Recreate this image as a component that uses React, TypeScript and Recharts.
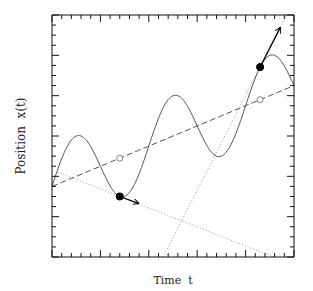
import {
  ComposedChart,
  Line,
  Scatter,
  XAxis,
  YAxis,
} from "recharts";

// axis ticks (no tick labels in the figure, only marks)
const timeTicks = [0, 1, 2, 3, 4, 5, 6, 7, 8, 9, 10, 11, 12, 13, 14, 15, 16, 17, 18, 19, 20, 21, 22, 23, 24, 25];
const positionTicks = [0, 1, 2, 3, 4, 5, 6, 7, 8, 9, 10, 11, 12, 13, 14, 15, 16, 17, 18, 19, 20, 21, 22, 23, 24];

// the wiggly trajectory x(t)
const curveT = [0, 1, 2, 3, 4, 5, 6, 7, 8, 9, 10, 11, 12, 13, 14, 15, 16, 17, 18, 19, 20, 21, 22, 23, 24, 25];
const curveX = [7.0, 9.75, 11.6, 12.0, 10.95, 9.0, 7.05, 6.0, 6.4, 8.25, 11.0, 13.75, 15.6, 16.0, 14.95, 13.0, 11.05, 10.0, 10.4, 12.25, 15.0, 17.75, 19.6, 20.0, 18.95, 17.0];

// dashed mean drift
const trendT = [0, 25];
const trendX = [7, 17];

// dotted tangents through the two marked instants
const tangent1T = [0.6, 22.9];
const tangent1X = [8.41, 0];
const tangent2T = [11.47, 24.24];
const tangent2X = [0, 24];

// velocity arrows
const arrow1T = [7, 9];
const arrow1X = [6.0, 5.3];
const arrow2T = [21.5, 23.6];
const arrow2X = [18.84, 22.8];

// marked points
const pointT = [7, 21.5];
const pointX = [6.0, 18.84];
const driftT = [7, 21.5];
const driftX = [9.8, 15.6];

const zip = (ts: number[], xs: number[]) => ts.map((t, i) => ({ t, x: xs[i] }));

const curveData = zip(curveT, curveX);
const trendData = zip(trendT, trendX);
const tangent1Data = zip(tangent1T, tangent1X);
const tangent2Data = zip(tangent2T, tangent2X);
const arrow1Data = zip(arrow1T, arrow1X);
const arrow2Data = zip(arrow2T, arrow2X);
const pointData = zip(pointT, pointX);
const driftData = zip(driftT, driftX);

const serif = "DejaVu Serif, serif";

const xTick = (dir: number) => (props: any) => {
  const { x, y, payload } = props;
  const len = payload.value % 5 === 0 ? 7 : 4;
  return <line x1={x} x2={x} y1={y} y2={y + dir * len} stroke="#111" strokeWidth={1} />;
};

const yTick = (dir: number) => (props: any) => {
  const { x, y, payload } = props;
  const len = payload.value % 4 === 0 ? 7 : 4;
  return <line x1={x} x2={x + dir * len} y1={y} y2={y} stroke="#111" strokeWidth={1} />;
};

const filledDot = (props: any) => (
  <circle cx={props.cx} cy={props.cy} r={3.6} fill="#000" stroke="#000" />
);
const openDot = (props: any) => (
  <circle cx={props.cx} cy={props.cy} r={3} fill="#fff" stroke="#666" strokeWidth={0.8} />
);

export default function App(): JSX.Element {
  return (
    <ComposedChart
      width={305}
      height={283}
      margin={{ top: 6, right: 18, bottom: 33, left: 43 }}
    >
      <defs>
        <marker id="arrowHead" viewBox="0 0 10 10" refX="10" refY="5" markerWidth="6" markerHeight="6" markerUnits="userSpaceOnUse" orient="auto">
          <path d="M0,0 L10,5 L0,10" fill="none" stroke="#000" strokeWidth={1.6} />
        </marker>
      </defs>
      <XAxis
        xAxisId="b"
        dataKey="t"
        type="number"
        domain={[0, 25]}
        ticks={timeTicks}
        interval={0}
        height={1}
        tickSize={0}
        tickMargin={0}
        tickLine={false}
        tick={xTick(-1)}
        axisLine={{ stroke: "#111" }}
        allowDataOverflow
        label={{ value: "Time\u00a0\u00a0t", position: "bottom", offset: 18, style: { fontFamily: serif, fontSize: 11, fill: "#222" } }}
      />
      <XAxis
        xAxisId="tp"
        orientation="top"
        dataKey="t"
        type="number"
        domain={[0, 25]}
        ticks={timeTicks}
        interval={0}
        height={1}
        tickSize={0}
        tickMargin={0}
        tickLine={false}
        tick={xTick(1)}
        axisLine={{ stroke: "#111" }}
        allowDataOverflow
      />
      <YAxis
        yAxisId="l"
        dataKey="x"
        type="number"
        domain={[0, 24]}
        ticks={positionTicks}
        interval={0}
        width={1}
        tickSize={0}
        tickMargin={0}
        tickLine={false}
        tick={yTick(1)}
        axisLine={{ stroke: "#111" }}
        allowDataOverflow
        label={{ value: "Position\u00a0\u00a0x(t)", angle: -90, position: "left", offset: 30, style: { fontFamily: serif, fontSize: 12, fill: "#222", textAnchor: "middle" } }}
      />
      <YAxis
        yAxisId="r"
        orientation="right"
        dataKey="x"
        type="number"
        domain={[0, 24]}
        ticks={positionTicks}
        interval={0}
        width={1}
        tickSize={0}
        tickMargin={0}
        tickLine={false}
        tick={yTick(-1)}
        axisLine={{ stroke: "#111" }}
        allowDataOverflow
      />
      <Line xAxisId="tp" yAxisId="r" data={trendData} dataKey="x" stroke="none" dot={false} isAnimationActive={false} />
      <Line xAxisId="b" yAxisId="l" data={tangent1Data} dataKey="x" type="linear" stroke="#999" strokeWidth={1} strokeDasharray="1 2" dot={false} isAnimationActive={false} />
      <Line xAxisId="b" yAxisId="l" data={tangent2Data} dataKey="x" type="linear" stroke="#999" strokeWidth={1} strokeDasharray="1 2" dot={false} isAnimationActive={false} />
      <Line xAxisId="b" yAxisId="l" data={trendData} dataKey="x" type="linear" stroke="#555" strokeWidth={1} strokeDasharray="6 3" dot={false} isAnimationActive={false} />
      <Line xAxisId="b" yAxisId="l" data={curveData} dataKey="x" type="natural" stroke="#555" strokeWidth={1} dot={false} isAnimationActive={false} />
      <Line xAxisId="b" yAxisId="l" data={arrow1Data} dataKey="x" type="linear" stroke="#000" strokeWidth={1.3} markerEnd="url(#arrowHead)" dot={false} isAnimationActive={false} />
      <Line xAxisId="b" yAxisId="l" data={arrow2Data} dataKey="x" type="linear" stroke="#000" strokeWidth={1.3} markerEnd="url(#arrowHead)" dot={false} isAnimationActive={false} />
      <Scatter xAxisId="b" yAxisId="l" data={driftData} dataKey="x" shape={openDot} isAnimationActive={false} />
      <Scatter xAxisId="b" yAxisId="l" data={pointData} dataKey="x" shape={filledDot} isAnimationActive={false} />
    </ComposedChart>
  );
}
